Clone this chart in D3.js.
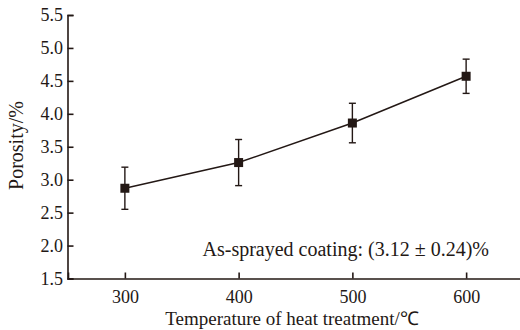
<!DOCTYPE html>
<html>
<head>
<meta charset="utf-8">
<script src="https://cdn.jsdelivr.net/npm/d3@7"></script>
<style>
  body { margin: 0; background: #fff; }
  text { font-family: "Liberation Serif", "Times New Roman", serif; fill: #231815; }
</style>
</head>
<body>
<div id="chart"></div>
<script>

// heat treatment temperatures and porosity readings
var temps = [300, 400, 500, 600]
var porosity = [2.87, 3.26, 3.86, 4.57]
var errors = [0.32, 0.35, 0.30, 0.26]

var yTicks = [1.5, 2.0, 2.5, 3.0, 3.5, 4.0, 4.5, 5.0, 5.5]
var xTicks = [300, 400, 500, 600]

var note = "As-sprayed coating: (3.12 ± 0.24)%"

var width = 520
var height = 330
var margin = {top: 15, right: 0, bottom: 52, left: 67.5}

var ink = "#231815"

var svg = d3.select("#chart").append("svg")
    .attr("width", width)
    .attr("height", height)

var x = d3.scaleLinear()
    .domain([250, 650])
    .range([68, 523])

var y = d3.scaleLinear()
    .domain([1.5, 5.5])
    .range([height - margin.bottom + 0.5, margin.top])

var yAxis = svg.append("g")
    .attr("transform", "translate(" + margin.left + ",0)")
    .call(d3.axisLeft(y).tickValues(yTicks).tickFormat(d3.format(".1f")).tickSize(-6).tickPadding(4.5))

var xAxis = svg.append("g")
    .attr("transform", "translate(0," + y(1.5) + ")")
    .call(d3.axisBottom(x).tickValues(xTicks).tickSize(-6).tickPadding(12))

svg.selectAll(".domain, .tick line")
    .style("stroke", ink)
    .style("stroke-width", 1.6)

svg.selectAll(".tick text")
    .style("font-size", "18px")
    .style("fill", ink)

xAxis.selectAll(".tick text").attr("dy", "0.71em")

// axis titles
svg.append("text")
    .attr("transform", "translate(23,145.5) rotate(-90)")
    .attr("text-anchor", "middle")
    .style("font-size", "20px")
    .text("Porosity/%")

svg.append("text")
    .attr("x", 292)
    .attr("y", 324.5)
    .attr("text-anchor", "middle")
    .style("font-size", "19px")
    .text("Temperature of heat treatment/℃")

svg.append("text")
    .attr("x", 489)
    .attr("y", 256)
    .attr("text-anchor", "end")
    .style("font-size", "20px")
    .text(note)

var data = temps.map(function(t, i) {
    return {t: t, v: porosity[i], e: errors[i]}
})

var line = d3.line()
    .x(function(d) { return x(d.t) })
    .y(function(d) { return y(d.v) })

svg.append("path")
    .datum(data)
    .attr("d", line)
    .style("fill", "none")
    .style("stroke", ink)
    .style("stroke-width", 1.5)

var bars = svg.append("g")
    .selectAll("g")
    .data(data)
    .enter()
    .append("g")

bars.append("line")
    .attr("x1", function(d) { return x(d.t) })
    .attr("x2", function(d) { return x(d.t) })
    .attr("y1", function(d) { return y(d.v + d.e) })
    .attr("y2", function(d) { return y(d.v - d.e) })
    .style("stroke", ink)
    .style("stroke-width", 1.4)

bars.selectAll(".cap")
    .data(function(d) { return [d.v + d.e, d.v - d.e].map(function(v) { return {t: d.t, v: v} }) })
    .enter()
    .append("line")
    .attr("class", "cap")
    .attr("x1", function(d) { return x(d.t) - 3.5 })
    .attr("x2", function(d) { return x(d.t) + 3.5 })
    .attr("y1", function(d) { return y(d.v) })
    .attr("y2", function(d) { return y(d.v) })
    .style("stroke", ink)
    .style("stroke-width", 1.4)

bars.append("rect")
    .attr("x", function(d) { return x(d.t) - 4.5 })
    .attr("y", function(d) { return y(d.v) - 4.5 })
    .attr("width", 9)
    .attr("height", 9)
    .style("fill", ink)

</script>
</body>
</html>
